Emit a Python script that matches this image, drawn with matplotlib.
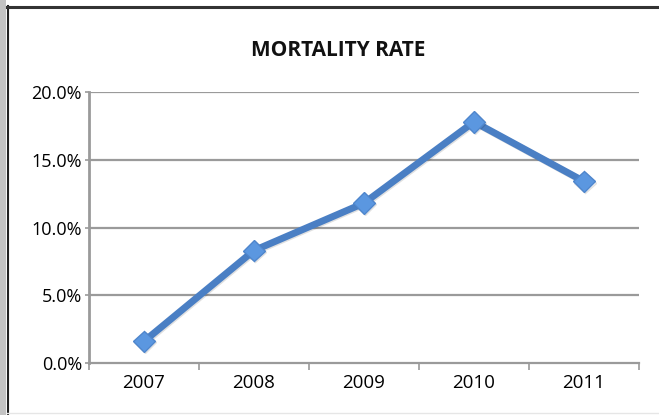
import matplotlib.pyplot as plt
from matplotlib.ticker import FuncFormatter
import matplotlib.patheffects as pe
import numpy as np

years = ['2007', '2008', '2009', '2010', '2011']
rate = [1.6, 8.3, 11.8, 17.8, 13.4]
y_ticks = [0, 5, 10, 15, 20]

plt.rcParams['font.family'] = ['Open Sans', 'DejaVu Sans']

fig = plt.figure(figsize=(6.59, 4.15), dpi=100)
fig.patch.set_facecolor('white')

# outer frame: grey strip on the left, dark rules top and left
fig.add_artist(plt.Rectangle((0, 0), 6 / 659, 1, transform=fig.transFigure,
                             color='#c4c4c4', lw=0))
fig.add_artist(plt.Line2D([7.5 / 659, 7.5 / 659], [0, 1 - 6 / 415],
                          transform=fig.transFigure, color='#222222', lw=1.5))
fig.add_artist(plt.Line2D([7 / 659, 1], [1 - 7 / 415, 1 - 7 / 415],
                          transform=fig.transFigure, color='#333333', lw=2.2))
fig.add_artist(plt.Line2D([7 / 659, 1], [2 / 415, 2 / 415],
                          transform=fig.transFigure, color='#e6e6e6', lw=1))

ax = fig.add_axes([89 / 659, 1 - 363 / 415, 550 / 659, 271 / 415])
x = np.arange(len(years))
ax.set_xlim(-0.5, len(years) - 0.5)
ax.set_ylim(0, 20)

for t in y_ticks[1:]:
    ax.axhline(t, color='#9a9a9a', lw=1.6, zorder=1)

ax.plot(x, rate, color='#4a7fc4', lw=5, solid_capstyle='round', zorder=3,
        marker='D', markersize=11, markerfacecolor='#5b97e0',
        markeredgecolor='#4f86cc', markeredgewidth=1,
        path_effects=[pe.SimpleLineShadow(offset=(0.8, -0.8), alpha=0.12),
                      pe.Normal()])

for s in ['top', 'right']:
    ax.spines[s].set_visible(False)
ax.spines['left'].set_color('#9a9a9a')
ax.spines['left'].set_linewidth(2)
ax.spines['bottom'].set_color('#9a9a9a')
ax.spines['bottom'].set_linewidth(1.6)

ax.set_yticks(y_ticks)
ax.yaxis.set_major_formatter(FuncFormatter(lambda v, p: f'{v:.1f}%'))
ax.tick_params(axis='y', length=3, width=1.2, color='#9a9a9a', labelsize=13,
               pad=2, direction='out')

ax.set_xticks(np.arange(-0.5, len(years)), minor=False)
ax.set_xticklabels([])
ax.set_xticks(x, minor=True)
ax.set_xticklabels(years, minor=True)
ax.tick_params(axis='x', which='major', length=5, width=1.2, color='#9a9a9a',
               direction='out')
ax.tick_params(axis='x', which='minor', length=0, labelsize=13.5, pad=8)

fig.text(338 / 659, 1 - 50 / 415, 'MORTALITY RATE', ha='center', va='center',
         fontsize=15, fontweight='bold', color='#111111')

fig.savefig('out.png', dpi=100)
